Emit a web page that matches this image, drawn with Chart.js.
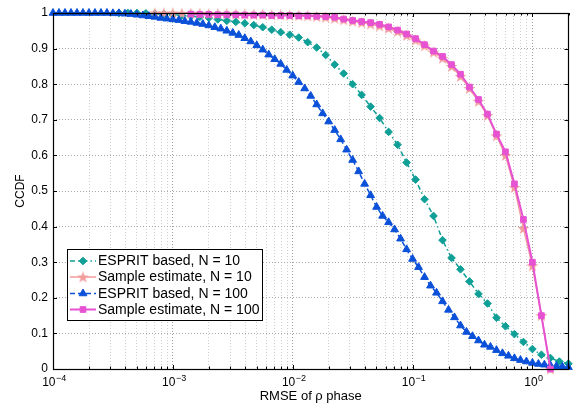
<!DOCTYPE html>
<html><head><meta charset="utf-8">
<script src="https://cdn.jsdelivr.net/npm/chart.js@4.4.1/dist/chart.umd.min.js"></script>
<style>html,body{margin:0;padding:0;background:#fff;}#wrap{width:576px;height:406px;}</style>
</head><body><div id="wrap"><canvas id="c" width="576" height="406"></canvas></div>
<script>
// ---- data ----
const seriesLabels = ['ESPRIT based, N = 10', 'Sample estimate, N = 10', 'ESPRIT based, N = 100', 'Sample estimate, N = 100'];
const xTitle = 'RMSE of \u03c1 phase';
const yTitle = 'CCDF';
const xDecadeBase = ['10', '10', '10', '10', '10'];
const xDecadeExp = ['\u22124', '\u22123', '\u22122', '\u22121', '0'];

// log10 of RMSE for the dense series (ESPRIT, N = 100)
const expA = [-4.00,-3.95,-3.90,-3.85,-3.80,-3.75,-3.70,-3.65,-3.60,-3.55,-3.50,-3.45,-3.40,-3.35,-3.30,-3.25,-3.20,-3.15,-3.10,-3.05,
 -3.00,-2.95,-2.90,-2.85,-2.80,-2.75,-2.70,-2.65,-2.60,-2.55,-2.50,-2.45,-2.40,-2.35,-2.30,-2.25,-2.20,-2.15,-2.10,-2.05,
 -2.00,-1.95,-1.90,-1.85,-1.80,-1.75,-1.70,-1.65,-1.60,-1.55,-1.50,-1.45,-1.40,-1.35,-1.30,-1.25,-1.20,-1.15,-1.10,-1.05,
 -1.00,-0.95,-0.90,-0.85,-0.80,-0.75,-0.70,-0.65,-0.60,-0.55,-0.50,-0.45,-0.40,-0.35,-0.30,-0.25,-0.20,-0.15,-0.10,-0.05,
 0.00,0.05,0.10,0.15,0.20,0.25,0.30];
const espritN100 = [1.0,1.0,1.0,1.0,1.0,1.0,1.0,1.0,1.0,1.0,
 0.999,0.999,0.998,0.997,0.995,0.993,0.991,0.989,0.986,0.984,
 0.982,0.980,0.977,0.975,0.972,0.969,0.965,0.960,0.956,0.950,
 0.944,0.938,0.929,0.920,0.909,0.897,0.883,0.870,0.857,0.840,
 0.824,0.806,0.788,0.767,0.743,0.718,0.695,0.671,0.645,0.616,
 0.587,0.555,0.520,0.488,0.455,0.430,0.412,0.392,0.366,0.336,
 0.309,0.286,0.258,0.234,0.214,0.190,0.166,0.145,0.122,0.104,
 0.092,0.080,0.068,0.062,0.053,0.044,0.037,0.030,0.025,0.021,
 0.017,0.014,0.012,0.010,0.008,0.006,0.005];

// log10 of RMSE for the other three series
const expB = [-3.450,-3.375,-3.300,-3.225,-3.150,-3.075,-3.000,-2.925,-2.850,-2.775,
 -2.700,-2.625,-2.550,-2.475,-2.400,-2.325,-2.250,-2.175,-2.100,-2.025,
 -1.950,-1.875,-1.800,-1.725,-1.650,-1.575,-1.500,-1.425,-1.350,-1.275,
 -1.200,-1.125,-1.050,-0.975,-0.900,-0.825,-0.750,-0.675,-0.600,-0.525,
 -0.450,-0.375,-0.300,-0.225,-0.150,-0.075,0.000,0.075,0.150,0.225,0.300];
const espritN10 = [1.0,1.0,1.0,0.999,0.998,0.997,0.995,0.993,0.991,0.989,
 0.986,0.982,0.978,0.975,0.971,0.966,0.960,0.953,0.946,0.939,
 0.931,0.918,0.903,0.882,0.855,0.830,0.800,0.770,0.737,0.705,
 0.666,0.630,0.580,0.532,0.477,0.430,0.362,0.312,0.280,0.246,
 0.211,0.184,0.144,0.120,0.098,0.076,0.056,0.040,0.031,0.021,0.015];
const sampleN10 = [null,null,null,null,1.0,1.0,1.0,0.999,0.999,0.999,
 0.998,0.998,0.998,0.997,0.997,0.996,0.996,0.995,0.995,0.994,
 0.993,0.992,0.990,0.988,0.985,0.981,0.977,0.973,0.969,0.964,
 0.957,0.948,0.937,0.924,0.908,0.890,0.873,0.850,0.822,0.788,
 0.752,0.712,0.655,0.600,0.510,0.395,0.290,0.150,0.0,null,null];
const sampleN100 = [null,null,null,null,null,null,null,null,0.997,0.996,
 0.996,0.995,0.995,0.995,0.994,0.994,0.994,0.993,0.993,0.993,
 0.992,0.992,0.991,0.990,0.988,0.983,0.979,0.976,0.973,0.968,
 0.961,0.952,0.941,0.928,0.911,0.893,0.878,0.855,0.828,0.792,
 0.757,0.716,0.660,0.610,0.520,0.420,0.300,0.150,0.0,null,null];

// ---- helpers ----
function pts(exps, vals) {
  const out = [];
  for (let i = 0; i < vals.length; i++) if (vals[i] !== null) out.push({x: Math.pow(10, exps[i]), y: vals[i]});
  return out;
}
const xDecades = [1e-4, 1e-3, 1e-2, 1e-1, 1];
const xTicks = [];
const xTickIsMajor = [];
xDecades.forEach((d, di) => {
  const ms = di < xDecades.length - 1 ? [1,2,3,4,5,6,7,8,9] : [1,2];
  ms.forEach(m => { xTicks.push(m * d); xTickIsMajor.push(m === 1 ? di : -1); });
});

const colTeal = '#0f9f97', colPink = '#f29c9c', colBlue = '#0a50d8', colMag = '#e652d2';

// pentagram marker
function makeStar(color) {
  const c = document.createElement('canvas');
  c.width = 13; c.height = 13;
  const g = c.getContext('2d');
  g.fillStyle = color; g.beginPath();
  for (let i = 0; i < 10; i++) {
    const r = i % 2 === 0 ? 6.2 : 2.5;
    const a = -Math.PI / 2 + i * Math.PI / 5;
    const px = 6.5 + r * Math.cos(a), py = 7 + r * Math.sin(a);
    if (i === 0) g.moveTo(px, py); else g.lineTo(px, py);
  }
  g.closePath(); g.fill();
  return c;
}
const starImg = makeStar(colPink);

const datasets = [
  {label: seriesLabels[0], data: pts(expB, espritN10), borderColor: colTeal, backgroundColor: colTeal,
   borderWidth: 1.5, borderDash: [5, 3, 1.5, 3], pointStyle: 'rectRot', pointRadius: 3.8, pointBorderWidth: 1, order: 3},
  {label: seriesLabels[1], data: pts(expB, sampleN10), borderColor: colPink, backgroundColor: colPink,
   borderWidth: 1.5, pointStyle: starImg, pointRadius: 6, order: 2},
  {label: seriesLabels[2], data: pts(expA, espritN100), borderColor: colBlue, backgroundColor: colBlue,
   borderWidth: 1.5, borderDash: [5, 3], pointStyle: 'triangle', pointRadius: 4.5, pointBorderWidth: 1, order: 1},
  {label: seriesLabels[3], data: pts(expB, sampleN100), borderColor: colMag, backgroundColor: colMag,
   borderWidth: 2, pointStyle: 'rect', pointRadius: 4, pointBorderWidth: 1, order: 0}
];
datasets.forEach(d => { d.clip = false; d.tension = 0; d.fill = false; d.pointHoverRadius = d.pointRadius; });

const FONT = '"Liberation Sans", Arial, Helvetica, sans-serif';
Chart.defaults.font.family = FONT;
Chart.defaults.color = '#000';

const boxPlugin = {
  id: 'box',
  afterDatasetsDraw(chart) {
    const {ctx, chartArea: a, scales: {x, y}} = chart;
    ctx.save();
    ctx.strokeStyle = '#000'; ctx.lineWidth = 1; ctx.setLineDash([]);
    ctx.beginPath();
    xTicks.forEach((v, i) => {
      const px = Math.round(x.getPixelForValue(v)) + 0.5;
      const len = xTickIsMajor[i] >= 0 ? 4 : 2.5;
      ctx.moveTo(px, a.bottom); ctx.lineTo(px, a.bottom - len);
      ctx.moveTo(px, a.top); ctx.lineTo(px, a.top + len);
    });
    for (let k = 0; k <= 10; k++) {
      const py = Math.round(y.getPixelForValue(k / 10)) + 0.5;
      ctx.moveTo(a.left, py); ctx.lineTo(a.left + 4, py);
      ctx.moveTo(a.right, py); ctx.lineTo(a.right - 4, py);
    }
    ctx.stroke();
    ctx.lineWidth = 1.2;
    ctx.strokeRect(Math.round(a.left) + 0.5, Math.round(a.top) + 0.5, Math.round(a.right - a.left) - 1, Math.round(a.bottom - a.top));
    ctx.restore();
  },
  afterDraw(chart) {
    const ctx = chart.ctx;
    const x = chart.scales.x;
    // x decade tick labels: base "10" with raised exponent
    ctx.save();
    ctx.fillStyle = '#000'; ctx.textBaseline = 'alphabetic'; ctx.textAlign = 'left';
    xDecades.forEach((d, i) => {
      const px = x.getPixelForValue(d);
      ctx.font = '12px ' + FONT;
      const wb = ctx.measureText(xDecadeBase[i]).width;
      ctx.font = '9px ' + FONT;
      const we = ctx.measureText(xDecadeExp[i]).width;
      const x0 = px - (wb + we) / 2 + 1;
      ctx.font = '12px ' + FONT;
      ctx.fillText(xDecadeBase[i], x0, 386);
      ctx.font = '9px ' + FONT;
      ctx.fillText(xDecadeExp[i], x0 + wb + 0.5, 381);
    });
    ctx.restore();
    // legend
    const L = 67, T = 249, W = 195, H = 71;
    ctx.save();
    ctx.fillStyle = '#fff'; ctx.fillRect(L, T, W, H);
    ctx.strokeStyle = '#000'; ctx.lineWidth = 1; ctx.setLineDash([]);
    ctx.strokeRect(L + 0.5, T + 0.5, W, H);
    const rows = [261, 277, 293.5, 309.5];
    chart.data.datasets.forEach((d, i) => {
      const yy = rows[i];
      ctx.save();
      ctx.strokeStyle = d.borderColor; ctx.lineWidth = d.borderWidth;
      ctx.setLineDash(d.borderDash || []);
      ctx.beginPath(); ctx.moveTo(70, yy); ctx.lineTo(96, yy); ctx.stroke();
      ctx.setLineDash([]);
      ctx.fillStyle = d.backgroundColor; ctx.strokeStyle = d.borderColor; ctx.lineWidth = d.pointBorderWidth || 1;
      Chart.helpers.drawPoint(ctx, {pointStyle: d.pointStyle, radius: d.pointRadius, rotation: 0, borderWidth: d.pointBorderWidth || 1}, 83, yy);
      ctx.restore();
      ctx.fillStyle = '#000'; ctx.font = '14px ' + FONT; ctx.textBaseline = 'middle'; ctx.textAlign = 'left';
      ctx.fillText(d.label, 98, yy + 0.5);
    });
    ctx.restore();
  }
};

new Chart(document.getElementById('c'), {
  type: 'line',
  data: {datasets},
  plugins: [boxPlugin],
  options: {
    responsive: false, animation: false, events: [], devicePixelRatio: 1,
    layout: {padding: {left: 0, right: 1, top: 13, bottom: 0}},
    plugins: {legend: {display: false}, tooltip: {enabled: false}},
    scales: {
      x: {
        type: 'logarithmic', min: 1e-4, max: 2,
        afterBuildTicks: s => { s.ticks = xTicks.map((v, i) => ({value: v, major: xTickIsMajor[i] >= 0})); },
        afterFit: s => { s.height = 37; },
        ticks: {autoSkip: false, maxRotation: 0, minRotation: 0, padding: 6, font: {size: 12}, color: '#000',
          callback: () => ''},
        grid: {drawTicks: false, lineWidth: 1,
          color: c => (c.index !== undefined && xTickIsMajor[c.index] >= 0) ? '#9c9c9c' : '#cfcfcf'},
        border: {display: false, dash: [1, 2]},
        title: {display: true, text: xTitle, font: {size: 13}, color: '#000', padding: {top: 0, bottom: 2}}
      },
      y: {
        min: 0, max: 1,
        afterFit: s => { s.width = 53; },
        ticks: {stepSize: 0.1, padding: 5, font: {size: 12}, color: '#000',
          callback: v => String(Math.round(v * 10) / 10)},
        grid: {drawTicks: false, lineWidth: 1, color: '#a8a8a8'},
        border: {display: false, dash: [1, 2]},
        title: {display: true, text: yTitle, font: {size: 12}, color: '#000', padding: {top: 13, bottom: 0}}
      }
    }
  }
});
</script></body></html>
